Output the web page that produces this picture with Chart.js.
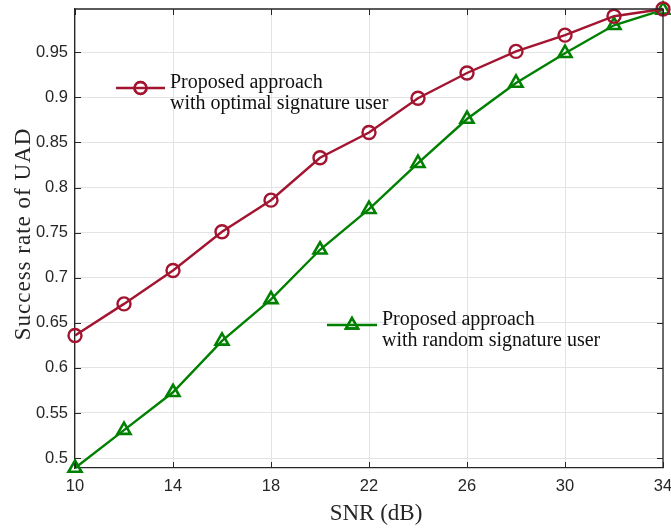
<!DOCTYPE html>
<html>
<head>
<meta charset="utf-8">
<script src="https://cdn.jsdelivr.net/npm/chart.js@4.4.1/dist/chart.umd.min.js"></script>
<style>
  html, body { margin: 0; padding: 0; background: #ffffff; }
  #wrap { width: 671px; height: 529px; position: relative; }
</style>
</head>
<body>
<div id="wrap"><canvas id="c" width="671" height="529"></canvas></div>
<script>
// SNR values (dB)
const snr = [10, 12, 14, 16, 18, 20, 22, 24, 26, 28, 30, 32, 34];
// Success rate, optimal signature user
const optimalRate = [0.636, 0.671, 0.708, 0.751, 0.786, 0.833, 0.861, 0.899, 0.927, 0.951, 0.969, 0.990, 0.998];
// Success rate, random signature user
const randomRate = [0.489, 0.531, 0.573, 0.630, 0.676, 0.731, 0.776, 0.827, 0.876, 0.916, 0.949, 0.980, 0.997];
// Axis ticks
const xTicks = [10, 14, 18, 22, 26, 30, 34];
const yTicks = [0.5, 0.55, 0.6, 0.65, 0.7, 0.75, 0.8, 0.85, 0.9, 0.95];
// Legend texts
const optimalLabel = ['Proposed approach', 'with optimal signature user'];
const randomLabel = ['Proposed approach', 'with random signature user'];

const RED = '#A2142F';
const GREEN = '#008000';
const AXIS = '#262626';
const GRID = '#e3e3e3';

const toPoints = (xs, ys) => xs.map((x, i) => ({ x: x, y: ys[i] }));

// Inward tick marks on all four sides of the box
const boxTicks = {
  id: 'boxTicks',
  afterDatasetsDraw(chart) {
    const { ctx, chartArea: a, scales } = chart;
    const len = 6;
    ctx.save();
    ctx.strokeStyle = AXIS;
    ctx.lineWidth = 1;
    ctx.beginPath();
    xTicks.forEach(v => {
      const px = Math.round(scales.x.getPixelForValue(v)) + 0.5;
      ctx.moveTo(px, a.bottom); ctx.lineTo(px, a.bottom - len);
      ctx.moveTo(px, a.top); ctx.lineTo(px, a.top + len);
    });
    yTicks.forEach(v => {
      const py = Math.round(scales.y.getPixelForValue(v)) + 0.5;
      ctx.moveTo(a.left, py); ctx.lineTo(a.left + len, py);
      ctx.moveTo(a.right, py); ctx.lineTo(a.right - len, py);
    });
    ctx.stroke();
    ctx.restore();
  }
};

// Axis titles
const axisTitles = {
  id: 'axisTitles',
  afterDraw(chart) {
    const { ctx, chartArea: a } = chart;
    ctx.save();
    ctx.fillStyle = AXIS;
    ctx.font = '23px "Liberation Serif", "Times New Roman", serif';
    ctx.textAlign = 'center';
    ctx.textBaseline = 'middle';
    ctx.fillText('SNR (dB)', (a.left + a.right) / 2 + 7, 514);
    ctx.translate(24, 234);
    ctx.rotate(-Math.PI / 2);
    ctx.letterSpacing = '1px';
    ctx.fillText('Success rate of UAD', 0, 0);
    ctx.restore();
  }
};

// Two separate legend boxes inside the plot
const insideLegends = {
  id: 'insideLegends',
  afterDraw(chart) {
    const { ctx } = chart;
    const entries = [
      { x1: 116, x2: 165, y: 88, color: RED, style: 'circle', r: 6, text: optimalLabel, tx: 170, ty: 83 },
      { x1: 327, x2: 377, y: 325, color: GREEN, style: 'triangle', r: 7, text: randomLabel, tx: 382, ty: 320 }
    ];
    entries.forEach(e => {
      ctx.save();
      ctx.strokeStyle = e.color;
      ctx.lineWidth = 2.4;
      ctx.beginPath();
      ctx.moveTo(e.x1, e.y); ctx.lineTo(e.x2, e.y);
      ctx.stroke();
      Chart.helpers.drawPoint(ctx, { pointStyle: e.style, radius: e.r, borderWidth: 2.4 }, (e.x1 + e.x2) / 2, e.y);
      ctx.stroke();
      ctx.fillStyle = '#111111';
      ctx.font = '20px "Liberation Serif", "Times New Roman", serif';
      ctx.textAlign = 'left';
      ctx.textBaseline = 'middle';
      e.text.forEach((t, i) => ctx.fillText(t, e.tx, e.ty + i * 20.5));
      ctx.restore();
    });
  }
};

new Chart(document.getElementById('c'), {
  type: 'line',
  data: {
    datasets: [
      {
        label: optimalLabel.join(' '),
        data: toPoints(snr, optimalRate),
        borderColor: RED,
        borderWidth: 2.4,
        pointStyle: 'circle',
        pointRadius: 6.5,
        pointBorderWidth: 2.4,
        pointBorderColor: RED,
        pointBackgroundColor: 'rgba(255,255,255,0)',
        tension: 0,
        clip: false
      },
      {
        label: randomLabel.join(' '),
        data: toPoints(snr, randomRate),
        borderColor: GREEN,
        borderWidth: 2.4,
        pointStyle: 'triangle',
        pointRadius: 7.5,
        pointBorderWidth: 2.6,
        pointBorderColor: GREEN,
        pointBackgroundColor: 'rgba(255,255,255,0)',
        tension: 0,
        clip: false
      }
    ]
  },
  options: {
    responsive: false,
    animation: false,
    devicePixelRatio: 1,
    layout: { autoPadding: false, padding: { left: 0, right: 8, top: 9, bottom: 0 } },
    plugins: { legend: { display: false }, tooltip: { enabled: false } },
    scales: {
      x: {
        type: 'linear',
        min: 10,
        max: 34,
        afterBuildTicks: s => { s.ticks = xTicks.map(v => ({ value: v })); },
        afterFit: s => { s.height = 61; s.paddingLeft = 0; s.paddingRight = 0; },
        grid: { color: GRID, lineWidth: 1, drawTicks: false },
        border: { display: true, color: AXIS, width: 1.3 },
        ticks: {
          padding: 9,
          color: AXIS,
          maxRotation: 0,
          font: { family: '"Liberation Sans", Arial, sans-serif', size: 16.5 },
          callback: v => String(v)
        }
      },
      y: {
        type: 'linear',
        min: 0.489,
        max: 0.998,
        afterBuildTicks: s => { s.ticks = yTicks.map(v => ({ value: v })); },
        afterFit: s => { s.width = 75; s.paddingTop = 0; s.paddingBottom = 0; },
        grid: { color: GRID, lineWidth: 1, drawTicks: false },
        border: { display: true, color: AXIS, width: 1.3 },
        ticks: {
          padding: 7,
          color: AXIS,
          font: { family: '"Liberation Sans", Arial, sans-serif', size: 16.5 },
          callback: v => String(+Number(v).toFixed(2))
        }
      }
    }
  },
  plugins: [boxTicks, axisTitles, insideLegends, {
    // top and right edges of the box
    id: 'boxFrame',
    afterDatasetsDraw(chart) {
      const { ctx, chartArea: a } = chart;
      ctx.save();
      ctx.strokeStyle = AXIS;
      ctx.lineWidth = 1.3;
      ctx.beginPath();
      ctx.moveTo(a.left, a.top); ctx.lineTo(a.right, a.top); ctx.lineTo(a.right, a.bottom);
      ctx.stroke();
      ctx.restore();
    }
  }]
});
</script>
</body>
</html>
